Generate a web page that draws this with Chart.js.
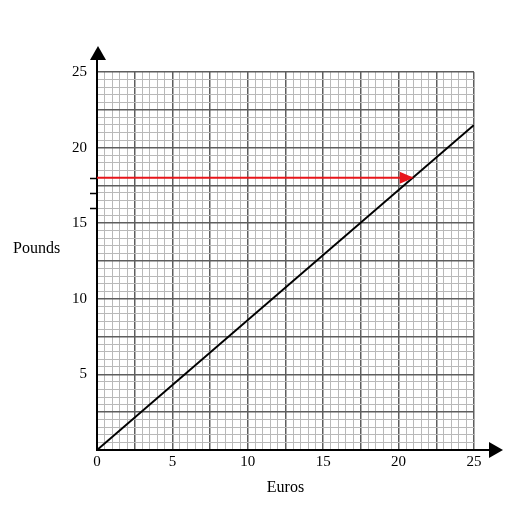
<!DOCTYPE html>
<html>
<head>
<meta charset="utf-8">
<script src="https://cdn.jsdelivr.net/npm/chart.js@4/dist/chart.umd.min.js"></script>
<style>
  html, body { margin: 0; padding: 0; background: #fff; }
  canvas { display: block; }
</style>
</head>
<body>
<canvas id="conv" width="529" height="529"></canvas>
<script>
// conversion line, euros -> pounds
const euros = [0, 25];
const pounds = [0, 21.5];

// red reading line (18 pounds across to the graph)
const readEuros = [0, 21];
const readPounds = [18, 18];

// stray tick marks on the pounds axis
const extraTicks = [16, 17, 18];

const AXIS_MIN = 0;
const AXIS_MAX = 25;
const MINOR_STEP = 0.5;
const MAJOR_STEP = 2.5;
const LABEL_STEP = 5;

const FONT = "'Liberation Serif', 'Times New Roman', serif";

function isMultiple(v, step) {
    const r = v / step;
    return Math.abs(r - Math.round(r)) < 1e-6;
}

function gridColor(ctx) {
    return isMultiple(ctx.tick.value, MAJOR_STEP) ? '#5e5e5e' : '#b9b9b9';
}
function gridWidth(ctx) {
    return isMultiple(ctx.tick.value, MAJOR_STEP) ? 1.5 : 1;
}

// --- arrows, extra ticks, unrotated y title ---
const decorations = {
    id: 'decorations',
    afterDatasetsDraw(chart) {
        const { ctx, chartArea, scales } = chart;
        const { left, right, top, bottom } = chartArea;
        ctx.save();

        // axis extensions + arrowheads
        ctx.strokeStyle = '#000';
        ctx.fillStyle = '#000';
        ctx.lineWidth = 2;
        ctx.beginPath();
        ctx.moveTo(left, top);
        ctx.lineTo(left, top - 14);
        ctx.moveTo(right, bottom);
        ctx.lineTo(right + 15, bottom);
        ctx.stroke();

        ctx.beginPath();
        ctx.moveTo(left + 1, top - 26);
        ctx.lineTo(left - 7, top - 12);
        ctx.lineTo(left + 9, top - 12);
        ctx.closePath();
        ctx.fill();

        ctx.beginPath();
        ctx.moveTo(right + 29, bottom);
        ctx.lineTo(right + 15, bottom - 8);
        ctx.lineTo(right + 15, bottom + 8);
        ctx.closePath();
        ctx.fill();

        // small ticks to the left of the pounds axis
        ctx.lineWidth = 1.5;
        ctx.beginPath();
        extraTicks.forEach(v => {
            const y = Math.round(scales.y.getPixelForValue(v)) + 0.5;
            ctx.moveTo(left - 7, y);
            ctx.lineTo(left, y);
        });
        ctx.stroke();

        // arrowhead at the end of the red reading line
        const meta = chart.getDatasetMeta(1);
        const pts = meta.data;
        const tip = pts[pts.length - 1];
        const prev = pts[pts.length - 2];
        const ang = Math.atan2(tip.y - prev.y, tip.x - prev.x);
        ctx.fillStyle = '#e8161b';
        ctx.translate(tip.x, tip.y);
        ctx.rotate(ang);
        ctx.beginPath();
        ctx.moveTo(0, 0);
        ctx.lineTo(-14, -6);
        ctx.lineTo(-14, 6);
        ctx.closePath();
        ctx.fill();
        ctx.setTransform(1, 0, 0, 1, 0, 0);

        // "Pounds" title, horizontal
        ctx.fillStyle = '#000';
        ctx.font = '16px ' + FONT;
        ctx.textAlign = 'left';
        ctx.textBaseline = 'middle';
        ctx.fillText('Pounds', 13, (top + bottom) / 2 - 12);

        ctx.restore();
    }
};

const ctx = document.getElementById('conv').getContext('2d');
new Chart(ctx, {
    type: 'scatter',
    data: {
        datasets: [
            {
                label: 'Conversion',
                data: euros.map((e, i) => ({ x: e, y: pounds[i] })),
                showLine: true,
                borderColor: '#000',
                borderWidth: 2,
                pointRadius: 0,
                fill: false
            },
            {
                label: 'Reading',
                data: readEuros.map((e, i) => ({ x: e, y: readPounds[i] })),
                showLine: true,
                borderColor: '#e8161b',
                borderWidth: 2,
                pointRadius: 0,
                fill: false
            }
        ]
    },
    options: {
        responsive: false,
        animation: false,
        layout: { padding: { top: 72, right: 55, bottom: 0, left: 0 } },
        plugins: {
            legend: { display: false },
            tooltip: { enabled: false }
        },
        scales: {
            x: {
                type: 'linear',
                min: AXIS_MIN,
                max: AXIS_MAX,
                afterFit: s => { s.height = 79; },
                border: { color: '#000', width: 2 },
                grid: { color: gridColor, lineWidth: gridWidth, drawTicks: false },
                ticks: {
                    stepSize: MINOR_STEP,
                    maxTicksLimit: 100,
                    autoSkip: false,
                    maxRotation: 0,
                    padding: 3,
                    color: '#000',
                    font: { family: FONT, size: 15 },
                    callback: v => isMultiple(v, LABEL_STEP) ? String(v) : ''
                },
                title: {
                    display: true,
                    text: 'Euros',
                    color: '#000',
                    font: { family: FONT, size: 16 },
                    padding: { top: 0, bottom: 32 }
                }
            },
            y: {
                type: 'linear',
                min: AXIS_MIN,
                max: AXIS_MAX,
                afterFit: s => { s.width = 97; },
                border: { color: '#000', width: 2 },
                grid: { color: gridColor, lineWidth: gridWidth, drawTicks: false },
                ticks: {
                    stepSize: MINOR_STEP,
                    maxTicksLimit: 100,
                    autoSkip: false,
                    padding: 10,
                    color: '#000',
                    font: { family: FONT, size: 15 },
                    callback: v => (v !== 0 && isMultiple(v, LABEL_STEP)) ? String(v) : ''
                }
            }
        }
    },
    plugins: [decorations]
});
</script>
</body>
</html>
